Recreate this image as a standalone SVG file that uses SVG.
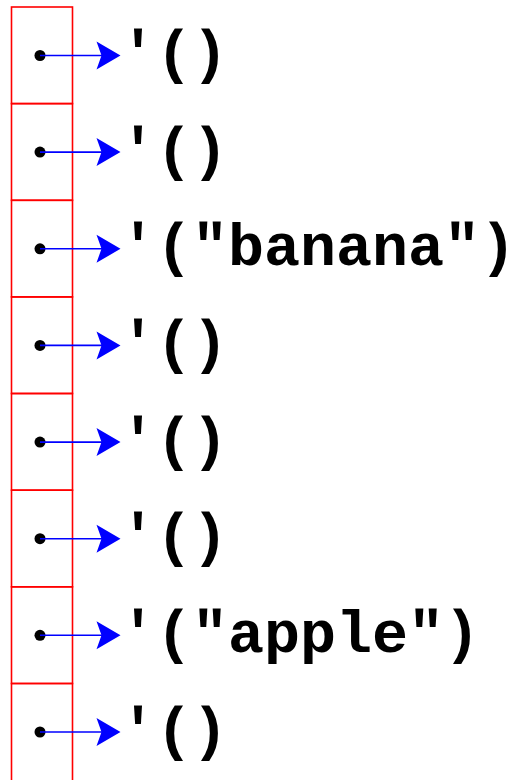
<svg xmlns="http://www.w3.org/2000/svg" width="527" height="780" viewBox="0 0 527 780">
<style>
.cell{fill:none;stroke:#ff0000;stroke-width:1.6}
.dot{fill:#000}
.ln{stroke:#0000ff;stroke-width:1.6;fill:none}
.hd{fill:#0000ff}
.t{font-family:"Liberation Mono","Courier New",monospace;font-weight:bold;font-size:60px;fill:#000}
</style>
<defs>
<g id="ptr">
<circle class="dot" cx="0" cy="0" r="5.5"/>
<line class="ln" x1="0" y1="0" x2="63" y2="0"/>
<path class="hd" d="M80.5,0 L56.5,-14 L61.5,0 L56.5,14 Z"/>
</g>
</defs>
<g id="array">
<rect class="cell" x="11.5" y="7" width="61" height="96.6"/>
<rect class="cell" x="11.5" y="103.6" width="61" height="96.7"/>
<rect class="cell" x="11.5" y="200.3" width="61" height="96.6"/>
<rect class="cell" x="11.5" y="296.9" width="61" height="96.6"/>
<rect class="cell" x="11.5" y="393.5" width="61" height="96.7"/>
<rect class="cell" x="11.5" y="490.2" width="61" height="96.6"/>
<rect class="cell" x="11.5" y="586.8" width="61" height="96.7"/>
<path class="cell" d="M11.5,800 V683.5 H72.5 V800"/>
</g>
<g id="connectors">
<use href="#ptr" x="40" y="55.5"/>
<use href="#ptr" x="40" y="152.1"/>
<use href="#ptr" x="40" y="248.8"/>
<use href="#ptr" x="40" y="345.4"/>
<use href="#ptr" x="40" y="442.1"/>
<use href="#ptr" x="40" y="538.7"/>
<use href="#ptr" x="40" y="635.3"/>
<use href="#ptr" x="40" y="732"/>
</g>
<g id="n0"><text class="t" x="120" y="72">'()</text></g>
<g id="n1"><text class="t" x="120" y="168.6">'()</text></g>
<g id="n2"><text class="t" x="120" y="265.3">'("banana")</text></g>
<g id="n3"><text class="t" x="120" y="361.9">'()</text></g>
<g id="n4"><text class="t" x="120" y="458.6">'()</text></g>
<g id="n5"><text class="t" x="120" y="555.2">'()</text></g>
<g id="n6"><text class="t" x="120" y="651.8">'("apple")</text></g>
<g id="n7"><text class="t" x="120" y="748.5">'()</text></g>
</svg>
